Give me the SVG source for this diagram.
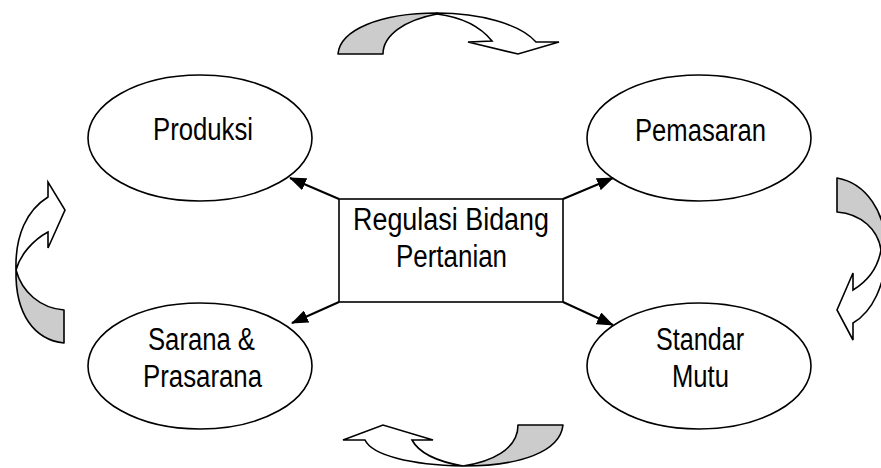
<svg xmlns="http://www.w3.org/2000/svg" width="881" height="468" viewBox="0 0 881 468">
<style>
.node{fill:#fff;stroke:#000;stroke-width:1.6}
.lbl{font-family:"Liberation Sans",Arial,sans-serif;font-size:31px;fill:#000}
.con{stroke:#000;stroke-width:2;fill:none}
.gray{fill:#cccccc;stroke:#000;stroke-width:1.6;stroke-linejoin:round}
.white{fill:#fff;stroke:#000;stroke-width:1.6;stroke-linejoin:miter}
</style>
<defs>
<marker id="ah" markerUnits="userSpaceOnUse" markerWidth="17" markerHeight="13" refX="16" refY="6.5" orient="auto">
<path d="M0,0 L17,6.5 L0,13 z" fill="#000"/>
</marker>
</defs>
<rect width="881" height="468" fill="#fff"/>

<g id="produksi">
<ellipse class="node" cx="200" cy="138" rx="112" ry="63"/>
<text class="lbl" x="153" y="140" textLength="100" lengthAdjust="spacingAndGlyphs">Produksi</text>
</g>
<g id="pemasaran">
<ellipse class="node" cx="699" cy="138" rx="112" ry="63"/>
<text class="lbl" x="635" y="141" textLength="131" lengthAdjust="spacingAndGlyphs">Pemasaran</text>
</g>
<g id="sarana">
<ellipse class="node" cx="200" cy="366" rx="112" ry="63"/>
<text class="lbl" x="148" y="350" textLength="107" lengthAdjust="spacingAndGlyphs">Sarana &amp;</text>
<text class="lbl" x="143" y="387" textLength="119" lengthAdjust="spacingAndGlyphs">Prasarana</text>
</g>
<g id="standar">
<ellipse class="node" cx="699" cy="366" rx="112" ry="63"/>
<text class="lbl" x="656" y="350" textLength="88" lengthAdjust="spacingAndGlyphs">Standar</text>
<text class="lbl" x="672" y="387" textLength="57" lengthAdjust="spacingAndGlyphs">Mutu</text>
</g>
<g id="regulasi">
<rect class="node" x="339" y="199" width="224" height="103"/>
<text class="lbl" x="353" y="230" textLength="196" lengthAdjust="spacingAndGlyphs">Regulasi Bidang</text>
<text class="lbl" x="396" y="267" textLength="111" lengthAdjust="spacingAndGlyphs">Pertanian</text>
</g>

<g id="connectors">
<line class="con" x1="339" y1="199" x2="290" y2="178" marker-end="url(#ah)"/>
<line class="con" x1="563" y1="199" x2="613" y2="178" marker-end="url(#ah)"/>
<line class="con" x1="339" y1="302" x2="292" y2="323" marker-end="url(#ah)"/>
<line class="con" x1="563" y1="302" x2="613" y2="325" marker-end="url(#ah)"/>
</g>

<g id="arrow-top">
<path class="gray" d="M338,54 C340,30 380,13 437,13 L437,14 C405,20 383,35 383,54 Z"/>
<path class="white" d="M437,13 C480,13 520,24 536,42 L559,42 L518,54 L468,42 L492,41 C480,26 460,17 437,14 Z"/>
</g>
<g id="arrow-right">
<path class="gray" d="M837,178 C866,183 886,212 886,250 L881,250 C878,230 862,214 837,212 Z"/>
<path class="white" d="M886,250 C886,285 872,312 853,323 L853,340 L837,310 L853,273 L853,290 C868,281 878,267 881,250 Z"/>
</g>
<g id="arrow-bottom">
<path class="gray" d="M563,425 C560,452 520,466 463,466 C490,462 518,450 518,425 Z"/>
<path class="white" d="M463,466 C410,465 372,455 365,440 L343,440 L383,425 L433,440 L412,440 C420,455 440,462 463,466 Z"/>
</g>
<g id="arrow-left">
<path class="gray" d="M64,343 C35,340 15,315 16,270 C22,292 40,308 64,310 Z"/>
<path class="white" d="M16,270 C15,235 27,210 48,197 L48,182 L65,210 L48,248 L48,232 C33,240 20,255 16,270 Z"/>
</g>
</svg>
